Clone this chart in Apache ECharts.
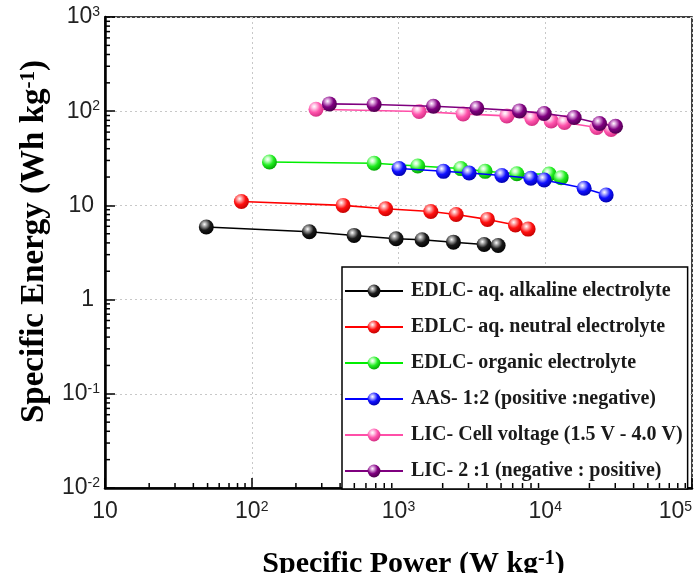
<!DOCTYPE html>
<html>
<head>
<meta charset="utf-8">
<script src="https://cdn.jsdelivr.net/npm/echarts@6/dist/echarts.min.js"></script>
<style>
  html, body { margin: 0; padding: 0; background: #fff; }
  #chart { width: 695px; height: 573px; }
</style>
</head>
<body>
<div id="chart"></div>
<script>
// Ragone plot: specific energy vs specific power (log-log)
const seriesNames = [
  'EDLC- aq. alkaline electrolyte',
  'EDLC- aq. neutral electrolyte',
  'EDLC- organic electrolyte',
  'AAS- 1:2 (positive :negative)',
  'LIC- Cell voltage (1.5 V - 4.0 V)',
  'LIC- 2 :1 (negative : positive)'
];

// Specific power (W/kg) and specific energy (Wh/kg) for each device
const alkalinePower = [49, 247, 498, 963, 1448, 2368, 3834, 4775];
const alkalineEnergy = [5.9, 5.25, 4.8, 4.42, 4.32, 4.07, 3.85, 3.75];

const neutralPower = [85, 419, 817, 1660, 2471, 4038, 6266, 7644];
const neutralEnergy = [11.0, 10.0, 9.2, 8.6, 8.0, 7.1, 6.2, 5.6];

const organicPower = [132, 682, 1353, 2659, 3893, 6402, 10630, 12830];
const organicEnergy = [28.9, 28.0, 26.2, 24.6, 23.0, 21.7, 21.5, 19.7];

const aasPower = [1009, 2024, 3030, 5060, 7980, 9833, 18410, 26000];
const aasEnergy = [24.6, 23.0, 22.1, 20.8, 19.4, 18.6, 15.2, 12.9];

const licVoltagePower = [274, 1381, 2757, 5472, 8106, 10970, 13520, 22490, 28120];
const licVoltageEnergy = [105, 99.3, 93.6, 89.1, 83.6, 78.9, 75.8, 67.1, 63.9];

const licRatioPower = [338, 682, 1729, 3417, 6670, 9833, 15740, 23420, 30120];
const licRatioEnergy = [119.6, 117.8, 113, 107.6, 100.7, 94.6, 85.7, 74.0, 69.2];

// Axis ranges and minor tick positions inside each decade
const xRange = [10, 100000];
const yRange = [0.01, 1000];
const xDecades = [10, 100, 1000, 10000];
const yDecades = [0.01, 0.1, 1, 10, 100];
const minorSteps = [2, 3, 4, 5, 6, 7, 8, 9];

const lineColors = ['#000000', '#ff0000', '#00ee00', '#0000ff', '#ff4fa8', '#7f007f'];
const ballShades = [
  ['#b0b0b0', '#1a1a1a', '#000000'],
  ['#ffb0b0', '#ff1010', '#c00000'],
  ['#c8ffc8', '#22ee22', '#00a000'],
  ['#b8b8ff', '#1010ff', '#0000a8'],
  ['#ffd0ea', '#ff55ad', '#d02c80'],
  ['#e0a8e0', '#800080', '#4a004a']
];

function ball(shade) {
  return {
    type: 'radial', x: 0.38, y: 0.32, r: 0.72,
    colorStops: [
      { offset: 0, color: '#ffffff' },
      { offset: 0.18, color: shade[0] },
      { offset: 0.55, color: shade[1] },
      { offset: 1, color: shade[2] }
    ]
  };
}

function pairs(xs, ys) { return xs.map((x, i) => [x, ys[i]]); }

const dataSets = [
  pairs(alkalinePower, alkalineEnergy),
  pairs(neutralPower, neutralEnergy),
  pairs(organicPower, organicEnergy),
  pairs(aasPower, aasEnergy),
  pairs(licVoltagePower, licVoltageEnergy),
  pairs(licRatioPower, licRatioEnergy)
];

const xMinor = [];
xDecades.forEach(d => minorSteps.forEach(m => xMinor.push([d * m, yRange[0]])));
const yMinor = [];
yDecades.forEach(d => minorSteps.forEach(m => yMinor.push([xRange[0], d * m])));

const lineSeries = dataSets.map((data, i) => ({
  name: seriesNames[i],
  type: 'line',
  data: data,
  symbol: 'circle',
  symbolSize: 15,
  lineStyle: { color: lineColors[i], width: 1.6 },
  itemStyle: { color: ball(ballShades[i]), borderWidth: 0 },
  emphasis: { disabled: true },
  z: 3 + i
}));

function minorTicks(data, horizontal) {
  return {
    type: 'custom',
    silent: true,
    clip: false,
    data: data,
    z: 10,
    renderItem: function (params, api) {
      const p = api.coord([api.value(0), api.value(1)]);
      const shape = horizontal
        ? { x1: p[0], y1: p[1], x2: p[0], y2: p[1] - 5 }
        : { x1: p[0], y1: p[1], x2: p[0] + 5, y2: p[1] };
      return { type: 'line', shape: shape, style: { stroke: '#000', lineWidth: 1.5 } };
    }
  };
}

const tickRich = {
  b: { fontFamily: 'Liberation Sans', fontSize: 23, color: '#222', lineHeight: 24 },
  p: { fontFamily: 'Liberation Sans', fontSize: 23, color: '#222', lineHeight: 24, padding: [0, 6, 0, 0] },
  s: { fontFamily: 'Liberation Sans', fontSize: 14, color: '#222', lineHeight: 14, verticalAlign: 'top' }
};

function energyLabel(v) {
  const e = Math.round(Math.log10(v));
  if (e === 0) return '{p|1}';
  if (e === 1) return '{p|10}';
  return '{b|10}{s|' + e + '}';
}

function powerLabel(v) {
  const e = Math.round(Math.log10(v));
  if (e === 1) return '{b|10}';
  return '{b|10}{s|' + e + '}';
}

const titleFont = { fontFamily: 'Liberation Serif', fontWeight: 'bold', color: '#000' };

const chart = echarts.init(document.getElementById('chart'), null, { renderer: 'canvas' });
chart.setOption({
  animation: false,
  backgroundColor: '#ffffff',
  grid: {
    left: 105, right: 3, top: 17, bottom: 85,
    containLabel: false,
    outerBoundsMode: 'none',
    show: true, borderColor: '#000', borderWidth: 1.5, backgroundColor: 'transparent'
  },
  xAxis: {
    type: 'log', logBase: 10, min: xRange[0], max: xRange[1],
    splitNumber: 4,
    axisLine: { lineStyle: { color: '#000', width: 2.5 } },
    axisTick: { inside: true, length: 10, lineStyle: { color: '#000', width: 1.5 } },
    axisLabel: {
      formatter: powerLabel, margin: 12, rich: tickRich, hideOverlap: false,
      alignMaxLabel: 'right'
    },
    splitLine: { show: true, lineStyle: { color: '#c8c8c8', type: [2, 3], width: 1 } },
    name: '{t|Specific Power (W kg}{s|-1}{t|)}',
    nameLocation: 'middle',
    nameGap: 61,
    nameTextStyle: {
      padding: [0, 0, 0, 30],
      rich: {
        t: Object.assign({ fontSize: 30, lineHeight: 30 }, titleFont),
        s: Object.assign({ fontSize: 20, lineHeight: 20, verticalAlign: 'top' }, titleFont)
      }
    }
  },
  yAxis: {
    type: 'log', logBase: 10, min: yRange[0], max: yRange[1],
    splitNumber: 5,
    axisLine: { lineStyle: { color: '#000', width: 2.5 } },
    axisTick: { inside: true, length: 10, lineStyle: { color: '#000', width: 1.5 } },
    axisLabel: { formatter: energyLabel, margin: 5, rich: tickRich, hideOverlap: false },
    splitLine: { show: true, lineStyle: { color: '#c8c8c8', type: [2, 3], width: 1 } },
    name: '{t|Specific Energy (Wh kg}{s|-1}{t|)}',
    nameLocation: 'middle',
    nameRotate: 90,
    nameGap: 41,
    nameTextStyle: {
      padding: [0, 0, 0, 22],
      rich: {
        t: Object.assign({ fontSize: 33, lineHeight: 33 }, titleFont),
        s: Object.assign({ fontSize: 21, lineHeight: 21, verticalAlign: 'top' }, titleFont)
      }
    }
  },
  legend: {
    orient: 'vertical',
    left: 342, top: 267,
    padding: [14, 5, 8, 2],
    itemWidth: 58, itemHeight: 16, itemGap: 16,
    backgroundColor: '#ffffff',
    borderColor: '#000', borderWidth: 1.5, borderRadius: 0,
    data: seriesNames,
    textStyle: {
      fontFamily: 'Liberation Serif', fontWeight: 'bold', fontSize: 20,
      lineHeight: 16, color: '#1a1a1a', padding: [0, 0, 0, 3]
    },
    selectedMode: false
  },
  series: lineSeries.concat([minorTicks(xMinor, true), minorTicks(yMinor, false)])
});
</script>
</body>
</html>
